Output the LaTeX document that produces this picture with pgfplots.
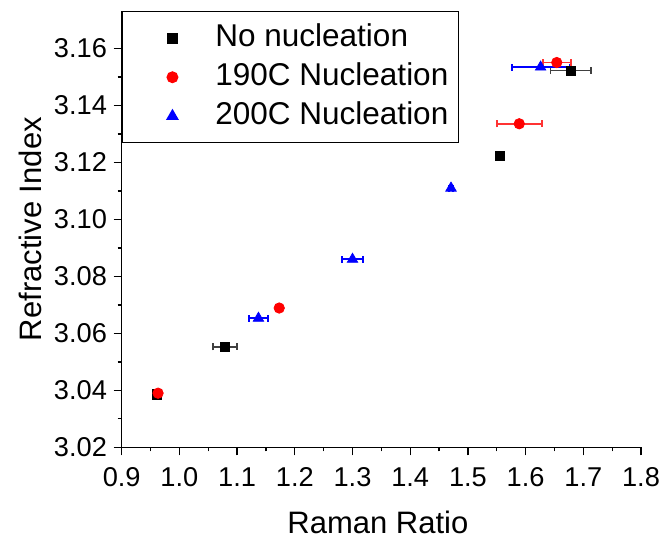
\documentclass[border=0pt]{standalone}
\usepackage{fontspec}
\setmainfont{Liberation Sans}
\usepackage{pgfplots}
\pgfplotsset{compat=1.18}
\definecolor{myred}{RGB}{255,0,0}
\definecolor{myblue}{RGB}{0,0,255}
\begin{document}
\begin{tikzpicture}
\begin{axis}[
  at={(0,0)}, anchor=south west,
  scale only axis,
  width=259.65pt, height=218.15pt,
  xmin=0.9, xmax=1.8,
  ymin=3.02, ymax=3.1732,
  axis x line*=bottom, axis y line*=left,
  axis line style={line width=0.65pt},
  every tick/.style={line width=0.65pt, black},
  tick align=outside,
  major tick length=4pt, minor tick length=2pt,
  xtick={0.9,1.0,1.1,1.2,1.3,1.4,1.5,1.6,1.7,1.8},
  ytick={3.02,3.04,3.06,3.08,3.10,3.12,3.14,3.16},
  minor x tick num=1, minor y tick num=1,
  tick label style={font=\fontsize{13.6}{16}\selectfont, inner sep=1.5pt},
  xticklabel shift=4.5pt,
  yticklabel shift=1.7pt,
  xticklabel style={/pgf/number format/.cd, fixed, fixed zerofill, precision=1},
  yticklabel style={/pgf/number format/.cd, fixed, fixed zerofill, precision=2},
  /pgf/number format/assume math mode=true,
  xlabel={Raman Ratio}, ylabel={Refractive Index},
  label style={font=\fontsize{15.5}{18}\selectfont},
  xlabel style={at={(axis description cs:0.5,0)}, anchor=base, yshift=-43pt, xshift=-1.7pt},
  ylabel style={at={(axis description cs:-0.1766,0.5)}, anchor=center},
  clip=false,
  legend style={at={(0,1)}, anchor=north west, draw=black, line width=0.75pt,
    font=\fontsize{15.75}{18}\selectfont, inner xsep=5pt, inner ysep=6.25pt,
    row sep=5.5pt,
    nodes={inner sep=0pt, text height=11pt, text depth=3pt}},
  legend cell align=left,
  legend image code/.code={\path[draw=none,fill=none] (-20pt,0pt) rectangle (21.5pt,0pt);
    \draw[#1,only marks] plot coordinates {(0pt,0pt)};},
]
\addplot[only marks, mark=square*, mark size=2.3pt, black,
  error bars/.cd, x dir=both, x explicit,
  error bar style={line width=0.9pt, black!75},
  error mark options={rotate=90, line width=0.9pt, black!75, mark size=1.75pt}]
coordinates {
(0.961,3.0386) +- (0.004,0)
(1.079,3.0553) +- (0.021,0)
(1.556,3.1224) +- (0.004,0)
(1.678,3.1523) +- (0.035,0)
};
\addlegendentry{No nucleation}
\addplot[only marks, mark=*, mark size=2.6pt, myred,
  error bars/.cd, x dir=both, x explicit,
  error bar style={line width=0.9pt, myred!80},
  error mark options={rotate=90, line width=0.9pt, myred!80, mark size=1.75pt}]
coordinates {
(0.963,3.0390) +- (0.003,0)
(1.173,3.0689) +- (0.003,0)
(1.589,3.1336) +- (0.039,0)
(1.654,3.1551) +- (0.024,0)
};
\addlegendentry{190C Nucleation}
\addplot[only marks, mark=triangle*, mark size=3pt, myblue,
  error bars/.cd, x dir=both, x explicit,
  error bar style={line width=0.9pt, myblue},
  error mark options={rotate=90, line width=0.9pt, myblue, mark size=1.75pt}]
coordinates {
(1.137,3.0653) +- (0.016,0)
(1.300,3.0860) +- (0.018,0)
(1.4707,3.1110) +- (0.004,0)
(1.626,3.1535) +- (0.050,0)
};
\addlegendentry{200C Nucleation}
\end{axis}
\pgfresetboundingbox
\path[use as bounding box] (-60.85pt,-45.85pt) rectangle (270.15pt,223.65pt);
\end{tikzpicture}
\end{document}
